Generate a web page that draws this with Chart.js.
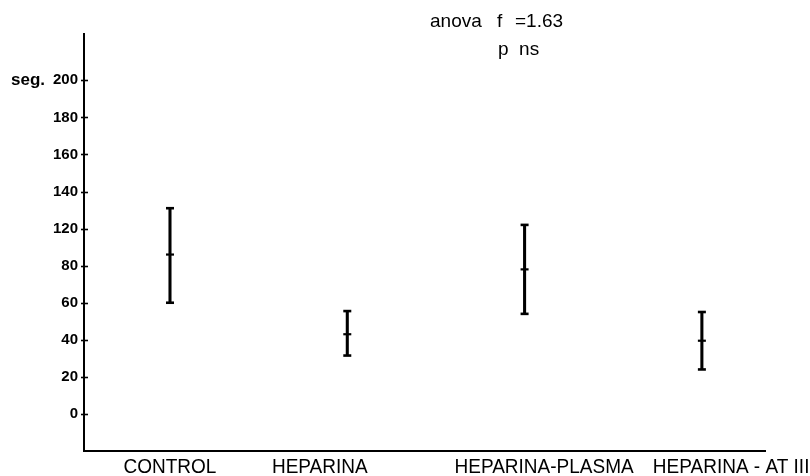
<!DOCTYPE html>
<html>
<head>
<meta charset="utf-8">
<script src="https://cdn.jsdelivr.net/npm/chart.js@4/dist/chart.umd.min.js"></script>
<style>
  html, body { margin: 0; padding: 0; background: #fff; }
  canvas { display: block; }
</style>
</head>
<body>
<canvas id="c" width="810" height="476"></canvas>
<script>
// Groups and their time ranges (seg.), in units of the printed axis grid
const categories = ['CONTROL', 'HEPARINA', 'HEPARINA-PLASMA', 'HEPARINA - AT III'];
const upper = [111, 55.5, 102, 55];
const mean  = [86, 43, 78, 39.5];
const lower = [60, 31.5, 54, 24];

// Printed y-axis labels, one per grid step of 20
const yTickLabels = ['0', '20', '40', '60', '80', '120', '140', '160', '180', '200'];

// Statistic printed at the top of the figure
const anovaText = 'anova';
const fLetter = 'f';
const fValue = '=1.63';
const pText = 'p  ns';

const INK = '#000';

// Horizontal nudges for the category captions (in category units)
const captionShift = [0, -0.155, 0.11, 0.165];

const decorations = {
  id: 'decorations',
  afterDraw(chart) {
    const ctx = chart.ctx;
    const x = chart.scales.x;
    const y = chart.scales.y;
    ctx.save();
    ctx.strokeStyle = INK;
    ctx.fillStyle = INK;

    // tick marks crossing the y axis
    ctx.lineWidth = 1.6;
    y.ticks.forEach(t => {
      const py = Math.round(y.getPixelForValue(t.value)) + 0.5;
      ctx.beginPath();
      ctx.moveTo(x.left - 3, py);
      ctx.lineTo(x.left + 4, py);
      ctx.stroke();
    });

    // unit label beside the top tick
    ctx.font = 'bold 17px "Liberation Sans", Arial, sans-serif';
    ctx.textAlign = 'left';
    ctx.textBaseline = 'alphabetic';
    ctx.fillText('seg.', 11, y.getPixelForValue(180) + 5);

    // anova note
    ctx.font = '19px "Liberation Sans", Arial, sans-serif';
    ctx.fillText(anovaText, 430, 27);
    ctx.fillText(fLetter, 497, 27);
    ctx.fillText(fValue, 515, 27);
    ctx.fillText(pText, 498, 55);

    // category captions under the x axis
    ctx.font = '20px "Liberation Sans", Arial, sans-serif';
    ctx.textAlign = 'center';
    categories.forEach((name, i) => {
      const px = x.getPixelForValue(i + captionShift[i]);
      ctx.save();
      ctx.translate(px, 473);
      ctx.scale(0.95, 1);
      ctx.fillText(name, 0, 0);
      ctx.restore();
    });
    ctx.restore();
  }
};

const idx = categories.map((_, i) => i);

new Chart(document.getElementById('c'), {
  type: 'bar',
  data: {
    datasets: [
      {
        type: 'bar',
        data: idx.map(i => ({ x: i, y: [lower[i], upper[i]] })),
        backgroundColor: INK,
        borderWidth: 0,
        barThickness: 2.4,
        grouped: false
      },
      {
        type: 'scatter',
        data: idx.flatMap(i => [{ x: i, y: upper[i] }, { x: i, y: lower[i] }]),
        pointStyle: 'line',
        radius: 4,
        borderWidth: 2.6,
        borderColor: INK,
        backgroundColor: INK
      },
      {
        type: 'scatter',
        data: idx.map(i => ({ x: i, y: mean[i] })),
        pointStyle: 'line',
        radius: 4,
        borderWidth: 2.2,
        borderColor: INK,
        backgroundColor: INK
      }
    ]
  },
  options: {
    responsive: false,
    animation: false,
    devicePixelRatio: 1,
    layout: { padding: { left: 0, right: 45, top: 34, bottom: 25 } },
    plugins: {
      legend: { display: false },
      tooltip: { enabled: false },
      title: { display: false }
    },
    scales: {
      x: {
        type: 'linear',
        offset: false,
        min: -0.485,
        max: 3.356,
        ticks: { display: false },
        grid: { display: false, offset: false },
        border: { display: true, color: INK, width: 2 },
        afterFit(s) { s.height = 0; }
      },
      y: {
        type: 'linear',
        min: -20,
        max: 205,
        afterBuildTicks(s) {
          s.ticks = yTickLabels.map((_, i) => ({ value: i * 20 }));
        },
        ticks: {
          callback: (v, i) => yTickLabels[i],
          color: INK,
          padding: 6,
          font: { family: '"Liberation Sans", Arial, sans-serif', size: 15, weight: 'bold' }
        },
        grid: { display: false, drawTicks: false },
        border: { display: true, color: INK, width: 2 },
        afterFit(s) { s.width = 84; }
      }
    }
  },
  plugins: [decorations]
});
</script>
</body>
</html>
